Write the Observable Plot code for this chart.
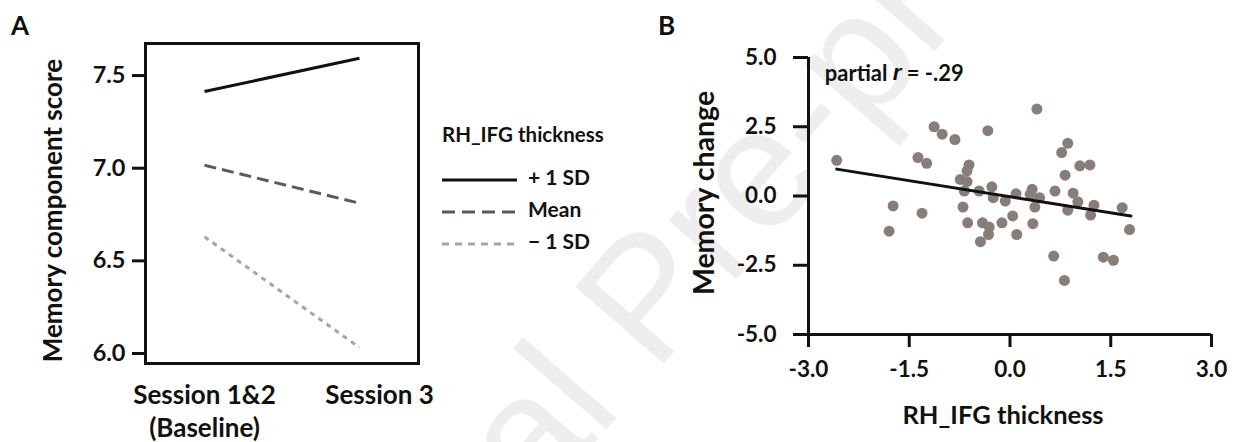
<!DOCTYPE html>
<html>
<head>
<meta charset="utf-8">
<script src="https://cdn.jsdelivr.net/npm/d3@7"></script>
<script src="https://cdn.jsdelivr.net/npm/@observablehq/plot@0.6"></script>
<style>
  body { margin: 0; background: #fff; }
  #wrap { position: relative; width: 1235px; height: 442px; overflow: hidden; font-family: Lato, "Open Sans", sans-serif; background: #fff; }
  #wm { position: absolute; left: 0; top: 0; }
  .panel { position: absolute; top: 0; }
  .plab { position: absolute; font-weight: 700; font-size: 26px; color: #111; line-height: 1; }
</style>
</head>
<body>
<div id="wrap">
  <svg id="wm" width="1235" height="442"></svg>
  <div id="pa" class="panel" style="left:0px"></div>
  <div id="pb" class="panel" style="left:640px"></div>
  <div class="plab" style="left:11px;top:12px">A</div>
  <div class="plab" style="left:658px;top:12px">B</div>
</div>
<script>
// ---------- Panel A data ----------
const sessions = ["Session 1&2\n(Baseline)", "Session 3"];
const seriesNames = ["+ 1 SD", "Mean", "\u2212 1 SD"];
const plusSD  = [7.414, 7.593];
const meanSD  = [7.016, 6.811];
const minusSD = [6.630, 6.032];
const yTicksA = [6.0, 6.5, 7.0, 7.5];
const legendTitle = "RH_IFG thickness";
const yTitleA = "Memory component score";

// ---------- Panel B data ----------
const thickness = [-2.58,-1.37,-1.24,-1.13,-1.01,-0.82,-1.74,-1.80,-1.31,-0.33,0.40,-0.61,-0.64,-0.74,-0.64,-0.68,-0.70,-0.63,-0.46,-0.27,-0.25,-0.41,-0.31,-0.32,-0.44,-0.07,-0.12,0.09,0.04,0.10,0.33,0.30,0.44,0.37,0.34,0.67,0.65,0.77,0.86,0.82,0.81,0.86,0.94,1.04,1.19,1.01,1.25,1.20,1.67,1.78,1.39,1.54];
const memChange = [1.29,1.39,1.18,2.50,2.23,2.04,-0.36,-1.27,-0.62,2.36,3.14,1.12,0.91,0.60,0.52,0.18,-0.40,-0.97,0.18,0.33,-0.06,-0.97,-1.12,-1.39,-1.65,-0.18,-0.97,0.08,-0.72,-1.39,0.24,0.06,-0.06,-0.40,-1.00,0.18,-2.17,1.57,1.90,0.75,-3.05,-0.51,0.10,1.09,1.12,-0.21,-0.33,-0.69,-0.42,-1.21,-2.21,-2.32];
const fitX = [-2.58, 1.80];
const fitY = [0.97, -0.72];
const xTicksB = [-3.0, -1.5, 0.0, 1.5, 3.0];
const yTicksB = [-5.0, -2.5, 0.0, 2.5, 5.0];
const xTitleB = "RH_IFG thickness";
const yTitleB = "Memory change";
const statLabel = ["partial ", "r", " = -.29"];
const watermark = "Journal Pre-proof";

// ---------- styles ----------
const FONT = "Lato, 'Open Sans', sans-serif";
const INK = "#111111";
const lineColors = ["#111111", "#5f5a58", "#a6a6a6"];
const lineDash = [null, "12,6", "5,5"];
const dotColor = "#877e79";

// ---------- Watermark ----------
d3.select("#wm").append("text")
  .attr("x", 644).attr("y", 296)
  .attr("transform", "rotate(-49 644 296)")
  .attr("text-anchor", "middle")
  .attr("dominant-baseline", "central")
  .attr("font-family", "'Liberation Sans', sans-serif")
  .attr("font-size", 170)
  .attr("fill", "#eeeeee")
  .text(watermark);

// ---------- Panel A ----------
const seriesVals = [plusSD, meanSD, minusSD];
const rowsA = seriesNames.flatMap((name, k) => sessions.map((s, i) => ({series: name, session: s, score: seriesVals[k][i]})));

const lineMarks = seriesNames.map((name, k) =>
  Plot.line(rowsA.filter(d => d.series === name), {
    x: "session", y: "score", stroke: lineColors[k], strokeWidth: 3,
    strokeDasharray: lineDash[k] || undefined, strokeLinecap: "butt"
  })
);

const chartA = Plot.plot({
  width: 640, height: 442,
  marginLeft: 145, marginRight: 222, marginTop: 43, marginBottom: 79,
  style: {background: "transparent", fontFamily: FONT, color: INK},
  x: {type: "point", domain: sessions, padding: 0.38, axis: null},
  y: {domain: [5.946, 7.673], axis: null},
  marks: [
    ...lineMarks,
    Plot.frame({stroke: INK, strokeWidth: 3}),
    Plot.axisY(yTicksA, {tickSize: 13, tickPadding: 7, strokeWidth: 3, stroke: INK, fill: INK,
      tickFormat: d => d.toFixed(1), fontSize: 23.5, fontWeight: 700, label: null}),
    Plot.text([sessions[0]], {x: d => d, frameAnchor: "bottom", lineAnchor: "top", dy: 16,
      fontSize: 26, fontWeight: 700, fill: INK, lineHeight: 1.3}),
    Plot.text([sessions[1]], {x: d => d, frameAnchor: "bottom", lineAnchor: "top", dy: 16, dx: 20,
      fontSize: 26, fontWeight: 700, fill: INK, lineHeight: 1.3}),
    Plot.text([yTitleA], {frameAnchor: "left", textAnchor: "middle", dx: -92, dy: 7, rotate: -90,
      fontSize: 26, fontWeight: 700, fill: INK})
  ]
});
document.getElementById("pa").appendChild(chartA);

// legend for panel A
{
  const svg = d3.select(chartA);
  const g = svg.append("g").attr("font-family", FONT).attr("font-weight", 700).attr("fill", INK)
    .attr("text-anchor", "start");
  g.append("text").attr("x", 442).attr("y", 134).attr("dominant-baseline", "central")
    .attr("text-anchor", "start").attr("font-size", 20.5).text(legendTitle);
  const ly = [180, 212, 244];
  const ty = [176, 208, 240];
  seriesNames.forEach((name, k) => {
    g.append("line").attr("x1", 442).attr("x2", 517).attr("y1", ly[k]).attr("y2", ly[k])
      .attr("stroke", lineColors[k]).attr("stroke-width", 3)
      .attr("stroke-dasharray", k === 1 ? "13,7" : k === 2 ? "7,6" : null);
    g.append("text").attr("x", 528).attr("y", ty[k]).attr("dominant-baseline", "central")
      .attr("text-anchor", "start").attr("font-size", 21).text(name);
  });
}

// ---------- Panel B ----------
const points = thickness.map((x, i) => ({x, y: memChange[i]}));
const fit = fitX.map((x, i) => ({x, y: fitY[i]}));

const chartB = Plot.plot({
  width: 595, height: 442,
  marginLeft: 168, marginRight: 24, marginTop: 57, marginBottom: 108,
  style: {background: "transparent", fontFamily: FONT, color: INK},
  x: {domain: [-3, 3], axis: null},
  y: {domain: [-5, 5], axis: null},
  marks: [
    Plot.ruleY([-5], {stroke: INK, strokeWidth: 3}),
    Plot.ruleX([-3], {stroke: INK, strokeWidth: 3}),
    Plot.axisX(xTicksB, {tickSize: 13, tickPadding: 14, strokeWidth: 3, stroke: INK, fill: INK,
      tickFormat: d => d.toFixed(1), fontSize: 22.5, fontWeight: 700, label: null}),
    Plot.axisY(yTicksB, {tickSize: 15, tickPadding: 17, strokeWidth: 3, stroke: INK, fill: INK,
      tickFormat: d => d.toFixed(1), fontSize: 22.5, fontWeight: 700, label: null}),
    Plot.dot(points, {x: "x", y: "y", r: 5.5, fill: dotColor, stroke: "none"}),
    Plot.line(fit, {x: "x", y: "y", stroke: INK, strokeWidth: 3}),
    Plot.text([xTitleB], {frameAnchor: "bottom", dx: -7, dy: 89, fontSize: 25.5, fontWeight: 700, fill: INK}),
    Plot.text([yTitleB], {frameAnchor: "left", textAnchor: "middle", dx: -104, dy: -3, rotate: -90,
      fontSize: 28.5, fontWeight: 700, fill: INK})
  ]
});
document.getElementById("pb").appendChild(chartB);

// stat label with italic r
{
  const sx = chartB.scale("x"), sy = chartB.scale("y");
  const t = d3.select(chartB).append("text")
    .attr("x", sx.apply(-2.75)).attr("y", sy.apply(4.46))
    .attr("dominant-baseline", "central").attr("text-anchor", "start")
    .attr("font-family", FONT).attr("font-weight", 700).attr("font-size", 22).attr("fill", INK);
  t.append("tspan").text(statLabel[0]);
  t.append("tspan").attr("font-style", "italic").attr("font-family", "'Liberation Sans', 'DejaVu Sans', sans-serif").text(statLabel[1]);
  t.append("tspan").text(statLabel[2]);
}
</script>
</body>
</html>
